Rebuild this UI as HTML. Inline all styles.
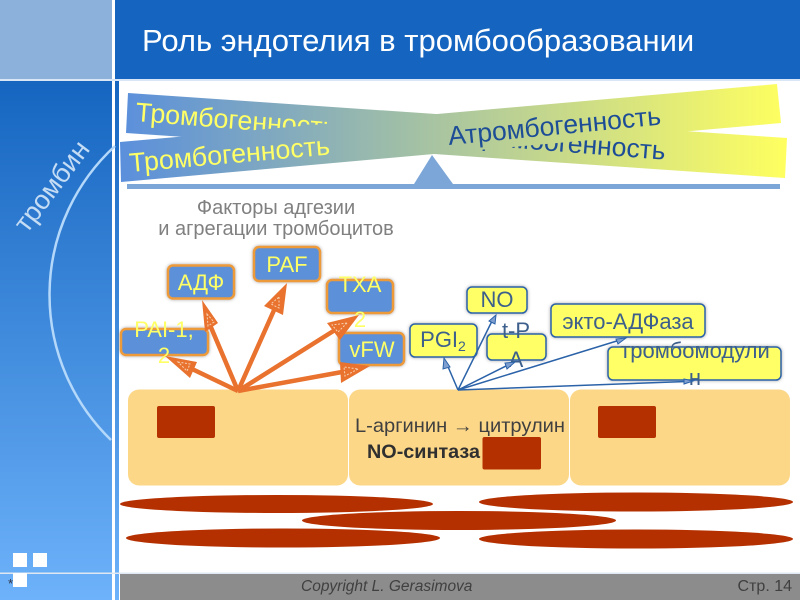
<!DOCTYPE html>
<html><head><meta charset="utf-8"><style>
html,body{margin:0;padding:0;background:#fff}
svg{display:block}
text{font-family:"Liberation Sans",sans-serif}
</style></head><body>
<svg width="800" height="600" viewBox="0 0 800 600" xmlns="http://www.w3.org/2000/svg">
<defs>
<linearGradient id="side" x1="0" y1="80" x2="0" y2="600" gradientUnits="userSpaceOnUse"><stop offset="0" stop-color="#1565c0"/><stop offset="1" stop-color="#6db2fa"/></linearGradient>
<linearGradient id="beam" x1="120" y1="0" x2="787" y2="0" gradientUnits="userSpaceOnUse"><stop offset="0" stop-color="#5a8fdc"/><stop offset="1" stop-color="#ffff60"/></linearGradient>
<filter id="sh" x="-20%" y="-20%" width="140%" height="140%"><feDropShadow dx="0" dy="0" stdDeviation="1.5" flood-color="#555" flood-opacity=".55"/></filter>
<filter id="bl" x="-5%" y="-5%" width="110%" height="110%"><feGaussianBlur stdDeviation=".35"/></filter>
</defs>
<rect width="800" height="600" fill="#fff"/>
<rect x="0" y="0" width="112" height="600" fill="url(#side)"/>
<rect x="0" y="0" width="112" height="79" fill="#8cb2dc"/>
<rect x="115" y="0" width="4" height="600" fill="url(#side)"/>
<rect x="115" y="0" width="4" height="79" fill="#1565c0"/>
<rect x="119" y="0" width="681" height="79" fill="#1565c0"/>
<rect x="0" y="79" width="800" height="2" fill="#d8e6f6"/>
<rect x="119" y="81" width="681" height="1" fill="#fff"/>
<text x="142" y="51" font-size="31" fill="#fff">Роль эндотелия в тромбообразовании</text>

<path d="M115 146A202 202 0 0 0 111 440" fill="none" stroke="#b4d8fa" stroke-width="2.500"/>
<text x="0" y="0" font-size="27" fill="#c4dcf4" transform="translate(27,234) rotate(-53)">тромбин</text>

<!-- balance -->
<g filter="url(#bl)">
<polygon points="128,93 787,138 785,178 126,133" fill="url(#beam)"/>
<text x="0" y="0" font-size="26.800" fill="#ffff66" transform="translate(135,121) rotate(4.500)">Тромбогенность</text>
<text x="0" y="0" font-size="26.500" fill="#1f4e96" transform="translate(452,143) rotate(4.500)">Атромбогенность</text>
<polygon points="120,142 777,84 781,123 121,182" fill="url(#beam)"/>
<text x="0" y="0" font-size="26.800" fill="#ffff66" transform="translate(130,172) rotate(-5)">Тромбогенность</text>
<text x="0" y="0" font-size="26.500" fill="#1f4e96" transform="translate(449,145) rotate(-5.500)">Атромбогенность</text>
<polygon points="432,155 414,184 453,184" fill="#7ba6d8"/>
<rect x="127" y="184" width="653" height="5" fill="#7ba6d8"/>
</g>

<text x="276" y="214" font-size="20" fill="#808080" text-anchor="middle">Факторы адгезии</text>
<text x="276" y="235" font-size="20" fill="#808080" text-anchor="middle">и агрегации тромбоцитов</text>

<!-- cells -->
<rect x="128" y="389.500" width="220" height="96" rx="11" fill="#fdd788"/>
<rect x="349" y="389.500" width="220" height="96" rx="11" fill="#fdd788"/>
<rect x="570" y="389.500" width="220" height="96" rx="11" fill="#fdd788"/>
<rect x="157" y="406" width="58" height="32" rx="2" fill="#b53000"/>
<rect x="598" y="406" width="58" height="32" rx="2" fill="#b53000"/>
<rect x="482.500" y="437" width="58.500" height="32.500" rx="2" fill="#b53000"/>
<text x="355" y="432" font-size="19.500" fill="#404040" textLength="210" lengthAdjust="spacingAndGlyphs">L-аргинин → цитрулин</text>
<text x="367" y="458" font-size="19.500" font-weight="bold" fill="#303030" textLength="113" lengthAdjust="spacingAndGlyphs">NO-синтаза</text>
<ellipse cx="276.500" cy="504" rx="156.500" ry="9" fill="#b53000"/>
<ellipse cx="636" cy="502" rx="157" ry="9.500" fill="#b53000"/>
<ellipse cx="459" cy="520.500" rx="157" ry="9.500" fill="#b53000"/>
<ellipse cx="283" cy="538" rx="157" ry="9.500" fill="#b53000"/>
<ellipse cx="636" cy="539" rx="157" ry="9.500" fill="#b53000"/>

<!-- left boxes -->
<g stroke="#ed9a3a" stroke-width="2.500" fill="#5b90d8" filter="url(#sh)">
<rect x="168" y="265.500" width="66" height="33" rx="5"/>
<rect x="254" y="247" width="66" height="34" rx="5"/>
<rect x="327" y="280" width="66" height="33" rx="5"/>
<rect x="121" y="329" width="87" height="26" rx="5"/>
<rect x="339" y="333" width="65" height="32" rx="5"/>
</g>
<g font-size="22" fill="#ffff66" text-anchor="middle">
<text x="201" y="290">АДФ</text>
<text x="287" y="272">PAF</text>
<text x="360" y="292">TXA</text>
<text x="360" y="327" font-size="22">2</text>
<text x="164" y="337">PAI-1,</text>
<text x="164" y="363">2</text>
<text x="372" y="357">vFW</text>
</g>
<!-- orange arrows -->
<g stroke="#e8722e" stroke-width="4.500" fill="none">
<line x1="238" y1="391" x2="190" y2="368"/>
<line x1="238" y1="391" x2="210" y2="325"/>
<line x1="238" y1="391" x2="275" y2="308"/>
<line x1="238" y1="391" x2="335" y2="330"/>
<line x1="238" y1="391" x2="342" y2="372"/>
</g>
<g fill="#e8722e">
<polygon points="165,356 197,362 190,378"/>
<polygon points="202,300 218,323 205,332"/>
<polygon points="287,283 283,315 264,306"/>
<polygon points="359,315 340,340 327,323"/>
<polygon points="370,366 341,383 340,362"/>
</g>
<g fill="none" stroke="#f6d0b0" stroke-width="1" stroke-dasharray="2 1.500">
<polygon points="178,362 190,364 187,371"/>
<polygon points="207,314 214,322 208,326"/>
<polygon points="279,297 279,308 271,304"/>
<polygon points="347,323 338,332 332,325"/>
<polygon points="358,369 345,376 344,367"/>
</g>

<!-- right boxes -->
<g stroke="#2b62a8" stroke-width="1.500" fill="#ffff66" filter="url(#sh)">
<rect x="467" y="287" width="60" height="26" rx="5"/>
<rect x="410" y="324" width="67" height="33" rx="5"/>
<rect x="487" y="334" width="59" height="26" rx="5"/>
<rect x="551" y="304" width="154" height="33" rx="5"/>
<rect x="608" y="347" width="173" height="33" rx="5"/>
</g>
<g font-size="22" fill="#3c5f8c" text-anchor="middle">
<text x="497" y="307">NO</text>
<text x="443" y="347">PGI<tspan font-size="14" dy="4">2</tspan></text>
<text x="516" y="338">t-P</text>
<text x="516" y="367">A</text>
<text x="628" y="329">экто-АДФаза</text>
<text x="695" y="358">тромбомодули</text>
<text x="695" y="385">н</text>
</g>
<!-- blue arrows -->
<g stroke="#2b62a8" stroke-width="1.500" fill="none">
<line x1="458" y1="390" x2="446" y2="362"/>
<line x1="458" y1="390" x2="493" y2="319"/>
<line x1="458" y1="390" x2="510" y2="364"/>
<line x1="458" y1="390" x2="620" y2="340"/>
<line x1="458" y1="390" x2="686" y2="381.500"/>
</g>
<g fill="#7f9fd0" stroke="#2b62a8" stroke-width="1">
<polygon points="444,358 450,367 443,369"/>
<polygon points="496,315 495,324 489,321"/>
<polygon points="515,362 507,369 505,363"/>
<polygon points="626,338 618,344 616,339"/>
<polygon points="693,381 684,384 684,379"/>
</g>

<!-- footer -->
<rect x="120" y="574" width="680" height="26" fill="#8c8c8c"/>
<rect x="0" y="572.500" width="800" height="1.500" fill="#dfe8f2"/>
<rect x="13" y="553" width="14" height="14" fill="#fff"/>
<rect x="33" y="553" width="14" height="14" fill="#fff"/>
<rect x="13" y="573" width="14" height="14" fill="#fff"/>
<text x="8" y="588" font-size="13" fill="#334">*</text>
<text x="301" y="591" font-size="15.500" font-style="italic" fill="#404040">Copyright L. Gerasimova</text>
<text x="792" y="591" font-size="16" fill="#404040" text-anchor="end">Стр. 14</text>
</svg>
</body></html>
